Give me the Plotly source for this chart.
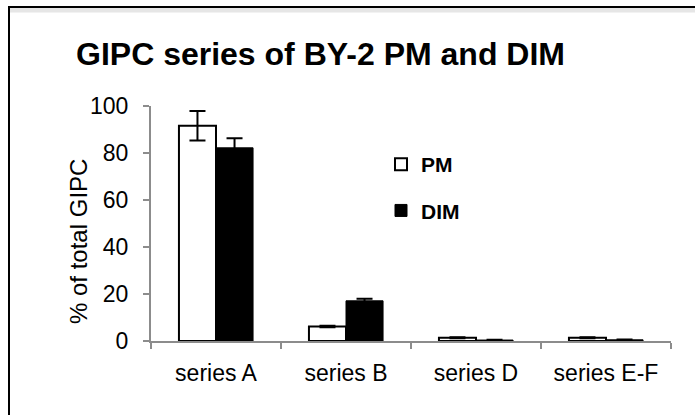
import plotly.graph_objects as go

categories = ["series A", "series B", "series D", "series E-F"]
pm_values = [91.6, 6.2, 1.4, 1.4]
pm_errors = [6.3, 0.3, 0.2, 0.2]
dim_values = [82.2, 17.1, 0.4, 0.5]
dim_errors = [4.1, 0.9, 0.1, 0.1]
y_ticks = [0, 20, 40, 60, 80, 100]

FONT = "Liberation Sans, Arial, sans-serif"
W, H = 695, 415
L, R, T, B = 151, 24, 106, 74
pw, ph = W - L - R, H - T - B

def px_x(p):
    return (p - L) / pw

def px_y(p):
    return (H - B - p) / ph

fig = go.Figure()
fig.add_trace(go.Bar(
    x=categories, y=pm_values, name="PM", legendgroup="pm",
    marker=dict(color="white", line=dict(color="black", width=2)),
    error_y=dict(type="data", array=pm_errors, visible=True, color="black", thickness=2, width=8),
))
fig.add_trace(go.Bar(
    x=categories, y=dim_values, name="DIM", legendgroup="dim",
    marker=dict(color="black", line=dict(color="black", width=1)),
    error_y=dict(type="data", array=dim_errors, visible=True, color="black", thickness=2, width=8),
))

fig.update_layout(
    width=W, height=H,
    margin=dict(l=L, r=R, t=T, b=B, autoexpand=False),
    paper_bgcolor="white", plot_bgcolor="white",
    barmode="group", bargap=0.43, bargroupgap=0,
    font=dict(family=FONT, color="black"),
    title=dict(
        text="<b>GIPC series of BY-2 PM and DIM</b>",
        font=dict(family=FONT, size=32, color="black"),
        xref="container", yref="container",
        x=76 / W, xanchor="left", y=1 - 54 / H, yanchor="middle",
    ),
    showlegend=True,
    legend=dict(
        x=px_x(381), y=px_y(144), xanchor="left", yanchor="top",
        font=dict(family=FONT, size=21, color="black", weight="bold"),
        tracegroupgap=16, bgcolor="rgba(0,0,0,0)",
    ),
    xaxis=dict(
        showline=True, linecolor="#8c8c8c", linewidth=2,
        ticks="outside", tickson="boundaries", ticklen=6, tickcolor="#8c8c8c", tickwidth=2,
        tickfont=dict(size=23, color="black"), ticklabelstandoff=10,
        showgrid=False, zeroline=False,
    ),
    yaxis=dict(
        range=[0, 100], tickvals=y_ticks,
        showline=True, linecolor="#8c8c8c", linewidth=2,
        ticks="outside", ticklen=6, tickcolor="#8c8c8c", tickwidth=2,
        tickfont=dict(size=23, color="black"), ticklabelstandoff=10,
        showgrid=False, zeroline=False,
    ),
    annotations=[
        dict(text="% of total GIPC", textangle=-90, xref="paper", yref="paper",
             x=px_x(78), y=px_y(242), xanchor="center", yanchor="middle", showarrow=False,
             font=dict(family=FONT, size=24, color="black")),
    ],
    shapes=[
        dict(type="line", xref="paper", yref="paper", x0=px_x(9), x1=px_x(700), y0=px_y(10), y1=px_y(10),
             line=dict(color="#e6e6e6", width=5)),
        dict(type="line", xref="paper", yref="paper", x0=px_x(9), x1=px_x(700), y0=px_y(7), y1=px_y(7),
             line=dict(color="black", width=2)),
        dict(type="line", xref="paper", yref="paper", x0=px_x(9), x1=px_x(9), y0=px_y(6), y1=px_y(420),
             line=dict(color="black", width=2)),
    ],
)

fig.write_html("out.html")
